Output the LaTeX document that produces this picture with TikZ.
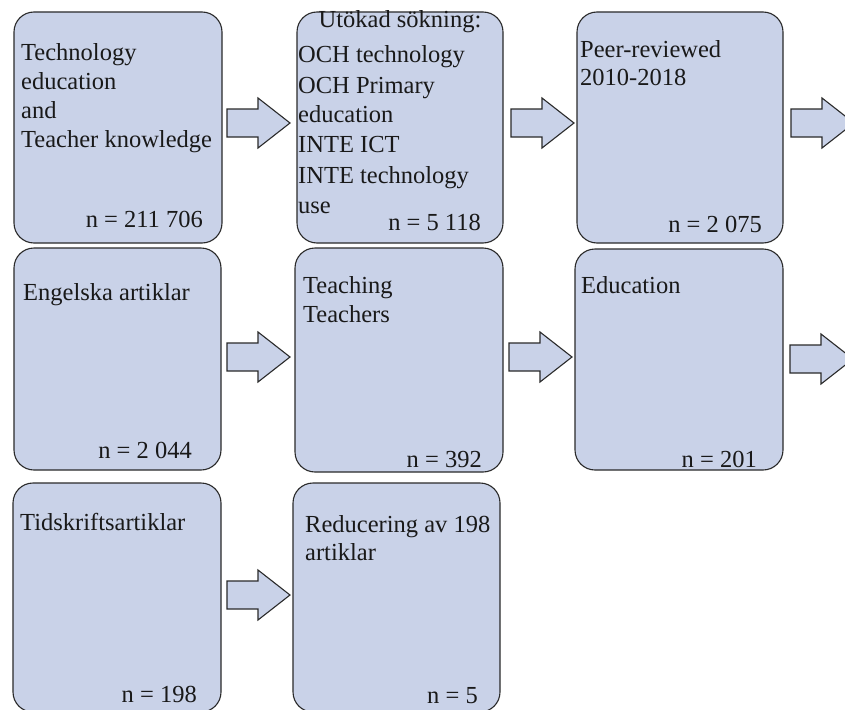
\documentclass[tikz,border=0pt]{standalone}
\usepackage{fontspec}
\setmainfont{Liberation Serif}
\definecolor{boxfill}{HTML}{C9D2E8}
\definecolor{edge}{HTML}{2A2A2A}
\begin{document}
\begin{tikzpicture}[x=1pt,y=-1pt,
  flowbox/.style={draw=edge,fill=boxfill,line width=1.1pt,rounded corners=20pt},
  txt/.style={inner sep=0pt,anchor=base west,font=\fontsize{24.5}{29}\selectfont,text=black!90},
  cnt/.style={inner sep=0pt,anchor=base east,font=\fontsize{24.5}{29}\selectfont,text=black!90},
  blockarr/.style={draw=edge,fill=boxfill,line width=1.1pt,line join=miter}]
\useasboundingbox (0,0) rectangle (845,709);
\clip (0,0) rectangle (845,709);
\fill[white] (0,0) rectangle (845,709);
% boxes
\draw[flowbox] (14,12) rectangle (222,243);
\draw[flowbox] (297,12) rectangle (503,243);
\draw[flowbox] (577,12) rectangle (783,243);
\draw[flowbox] (14,248) rectangle (221,470);
\draw[flowbox] (295,248) rectangle (503,472);
\draw[flowbox] (575,249) rectangle (783,470);
\draw[flowbox] (13,483) rectangle (221,712);
\draw[flowbox] (293,483) rectangle (500,712);
% block arrows: tail x, centre y
\newcommand\blockarrow[2]{%
  \draw[blockarr] (#1,#2-14) -- ++(31,0) -- ++(0,-11) -- ++(32,25) -- ++(-32,25) -- ++(0,-11) -- ++(-31,0) -- cycle;}
\blockarrow{227}{123}
\blockarrow{511}{123}
\blockarrow{791}{123}
\blockarrow{227}{357}
\blockarrow{509}{357}
\blockarrow{790}{359}
\blockarrow{227}{595}
% texts box 1
\node[txt] (t1a) at (21,60) {Technology};
\node[txt] (t1b) at (21,89) {education};
\node[txt] (t1c) at (21,118) {and};
\node[txt] (t1d) at (21,147) {Teacher knowledge};
\node[cnt] (n1) at (203,227) {n = 211 706};
% box 2
\node[inner sep=0pt,anchor=base,font=\fontsize{24.5}{29}\selectfont,text=black!90] (t2a) at (400,28) {Utökad sökning:};
\node[txt] (t2b) at (298,63) {OCH technology};
\node[txt] (t2c) at (298,93) {OCH Primary};
\node[txt] (t2d) at (298,122) {education};
\node[txt] (t2e) at (298,152) {INTE ICT};
\node[txt] (t2f) at (298,183) {INTE technology};
\node[txt] (t2g) at (298,213) {use};
\node[cnt] (n2) at (481,230) {n = 5 118};
% box 3
\node[txt] (t3a) at (580,57) {Peer-reviewed};
\node[txt] (t3b) at (580,85) {2010-2018};
\node[cnt] (n3) at (762,232) {n = 2 075};
% row 2
\node[txt] (t4a) at (23,300) {Engelska artiklar};
\node[cnt] (n4) at (192,458) {n = 2 044};
\node[txt] (t5a) at (303,293) {Teaching};
\node[txt] (t5b) at (303,322) {Teachers};
\node[cnt] (n5) at (482,467) {n = 392};
\node[txt] (t6a) at (581,293) {Education};
\node[cnt] (n6) at (757,467) {n = 201};
% row 3
\node[txt] (t7a) at (20,530) {Tidskriftsartiklar};
\node[cnt] (n7) at (197,702) {n = 198};
\node[txt] (t8a) at (305,532) {Reducering av 198};
\node[txt] (t8b) at (305,560) {artiklar};
\node[cnt] (n8) at (478,703) {n = 5};
\end{tikzpicture}
\end{document}
